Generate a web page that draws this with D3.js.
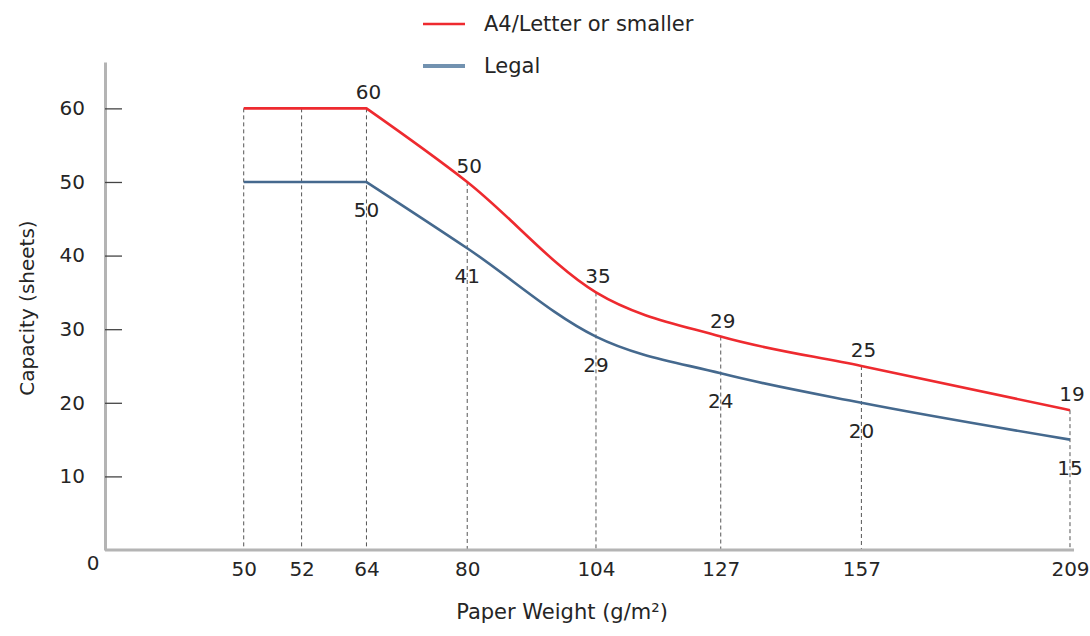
<!DOCTYPE html>
<html lang="en">
<head>
<meta charset="UTF-8">
<title>Paper capacity</title>
<script src="https://d3js.org/d3.v7.min.js"></script>
<style>
  body { margin: 0; background: #fff; }
  svg text { font-family: "DejaVu Sans", sans-serif; fill: #252525; }
  .axis .domain { stroke: #b4b4b4; stroke-width: 3; }
  .axis .tick line { stroke: #444; stroke-width: 1.3; }
  .guide { stroke: #555; stroke-width: 1; stroke-dasharray: 4,3; }
</style>
</head>
<body>
<div id="chart"></div>
<script>
// paper weights (g/m2) and capacities (sheets)
var weights = [50, 52, 64, 80, 104, 127, 157, 209];
var a4Values = [60, 60, 60, 50, 35, 29, 25, 19];
var legalValues = [50, 50, 50, 41, 29, 24, 20, 15];
var flatUntil = 64;   // capacity is constant up to this weight, labels start here
var yTicks = [10, 20, 30, 40, 50, 60];
var seriesNames = ["A4/Letter or smaller", "Legal"];

var W = 1090, H = 636;
var plotLeft = 105, plotBottom = 550, plotTop = 62;

var svg = d3.select("#chart").append("svg")
    .attr("width", W)
    .attr("height", H);

// the x axis is not to scale: each weight gets its own slot
var x = d3.scaleLinear()
    .domain([0].concat(weights))
    .range([0, 0.1433, 0.2031, 0.2701, 0.3742, 0.5072, 0.6361, 0.7814, 0.9969].map(function(f) { return plotLeft + f * (W - plotLeft - 17); }));

var y = d3.scaleLinear()
    .domain([0, 66.3])
    .range([plotBottom, plotTop]);

var color = d3.scaleOrdinal(seriesNames, ["#ee2a2f", "#45698e"]);

var a4 = weights.map(function(w, i) { return {w: w, v: a4Values[i]}; });
var legal = weights.map(function(w, i) { return {w: w, v: legalValues[i]}; });

// dashed guides from the upper curve down to the axis
svg.append("g").selectAll("line")
    .data(a4)
  .enter().append("line")
    .attr("class", "guide")
    .attr("x1", function(d) { return x(d.w); })
    .attr("x2", function(d) { return x(d.w); })
    .attr("y1", function(d) { return y(d.v); })
    .attr("y2", y(0));

// axes
var xAxis = d3.axisBottom(x)
    .tickValues(weights)
    .tickSize(0)
    .tickPadding(12);

svg.append("g")
    .attr("class", "x axis")
    .attr("transform", "translate(0," + plotBottom + ")")
    .call(xAxis)
    .call(function(g) { g.select(".domain").attr("d", "M" + plotLeft + ",0H" + (x(209) + 4)); })
    .selectAll("text")
    .style("font-size", "20px")
    .attr("dy", "0.68em");

var yAxis = d3.axisLeft(y)
    .tickValues(yTicks)
    .tickSizeInner(-17)
    .tickSizeOuter(0)
    .tickPadding(20);

svg.append("g")
    .attr("class", "y axis")
    .attr("transform", "translate(" + plotLeft + ",0)")
    .call(yAxis)
    .selectAll("text")
    .style("font-size", "20px");

svg.append("text")
    .attr("x", plotLeft - 12)
    .attr("y", plotBottom + 20)
    .attr("text-anchor", "middle")
    .style("font-size", "20px")
    .text("0");

svg.append("text")
    .attr("transform", "translate(34," + ((plotTop + plotBottom) / 2 + 2) + ") rotate(-90)")
    .attr("text-anchor", "middle")
    .style("font-size", "20px")
    .text("Capacity (sheets)");

svg.append("text")
    .attr("x", 562)
    .attr("y", 619)
    .attr("text-anchor", "middle")
    .style("font-size", "21px")
    .text("Paper Weight (g/m²)");

// curves: straight while flat, smooth after that
var flatLine = d3.line()
    .x(function(d) { return x(d.w); })
    .y(function(d) { return y(d.v); });

var smoothLine = d3.line()
    .x(function(d) { return x(d.w); })
    .y(function(d) { return y(d.v); })
    .curve(d3.curveMonotoneX);

function curvePath(data) {
  var head = data.filter(function(d) { return d.w <= flatUntil; });
  var tail = data.filter(function(d) { return d.w >= flatUntil; });
  return flatLine(head) + smoothLine(tail).replace(/^M/, "L");
}

[[legal, "Legal"], [a4, "A4/Letter or smaller"]].forEach(function(s) {
  svg.append("path")
      .datum(s[0])
      .attr("fill", "none")
      .attr("stroke", color(s[1]))
      .attr("stroke-width", 2.6)
      .attr("stroke-linejoin", "round")
      .attr("d", curvePath);
});

// value labels
svg.append("g").selectAll("text")
    .data(a4.filter(function(d) { return d.w >= flatUntil; }))
  .enter().append("text")
    .attr("x", function(d) { return x(d.w) + 2; })
    .attr("y", function(d) { return y(d.v) - 9; })
    .attr("text-anchor", "middle")
    .style("font-size", "20px")
    .text(function(d) { return d.v; });

svg.append("g").selectAll("text")
    .data(legal.filter(function(d) { return d.w >= flatUntil; }))
  .enter().append("text")
    .attr("x", function(d) { return x(d.w); })
    .attr("y", function(d) { return y(d.v) + 35; })
    .attr("text-anchor", "middle")
    .style("font-size", "20px")
    .text(function(d) { return d.v; });

// legend
var legend = svg.selectAll(".legend")
    .data(seriesNames)
  .enter().append("g")
    .attr("class", "legend")
    .attr("transform", function(d, i) { return "translate(423," + (24 + i * 42) + ")"; });

legend.append("line")
    .attr("x1", 0)
    .attr("x2", 42)
    .attr("stroke", function(d) { return d === "Legal" ? "#7292b0" : color(d); })
    .attr("stroke-width", function(d) { return d === "Legal" ? 4 : 2.5; });

legend.append("text")
    .attr("x", 61)
    .attr("dy", "0.35em")
    .style("font-size", "21px")
    .text(function(d) { return d; });
</script>
</body>
</html>
